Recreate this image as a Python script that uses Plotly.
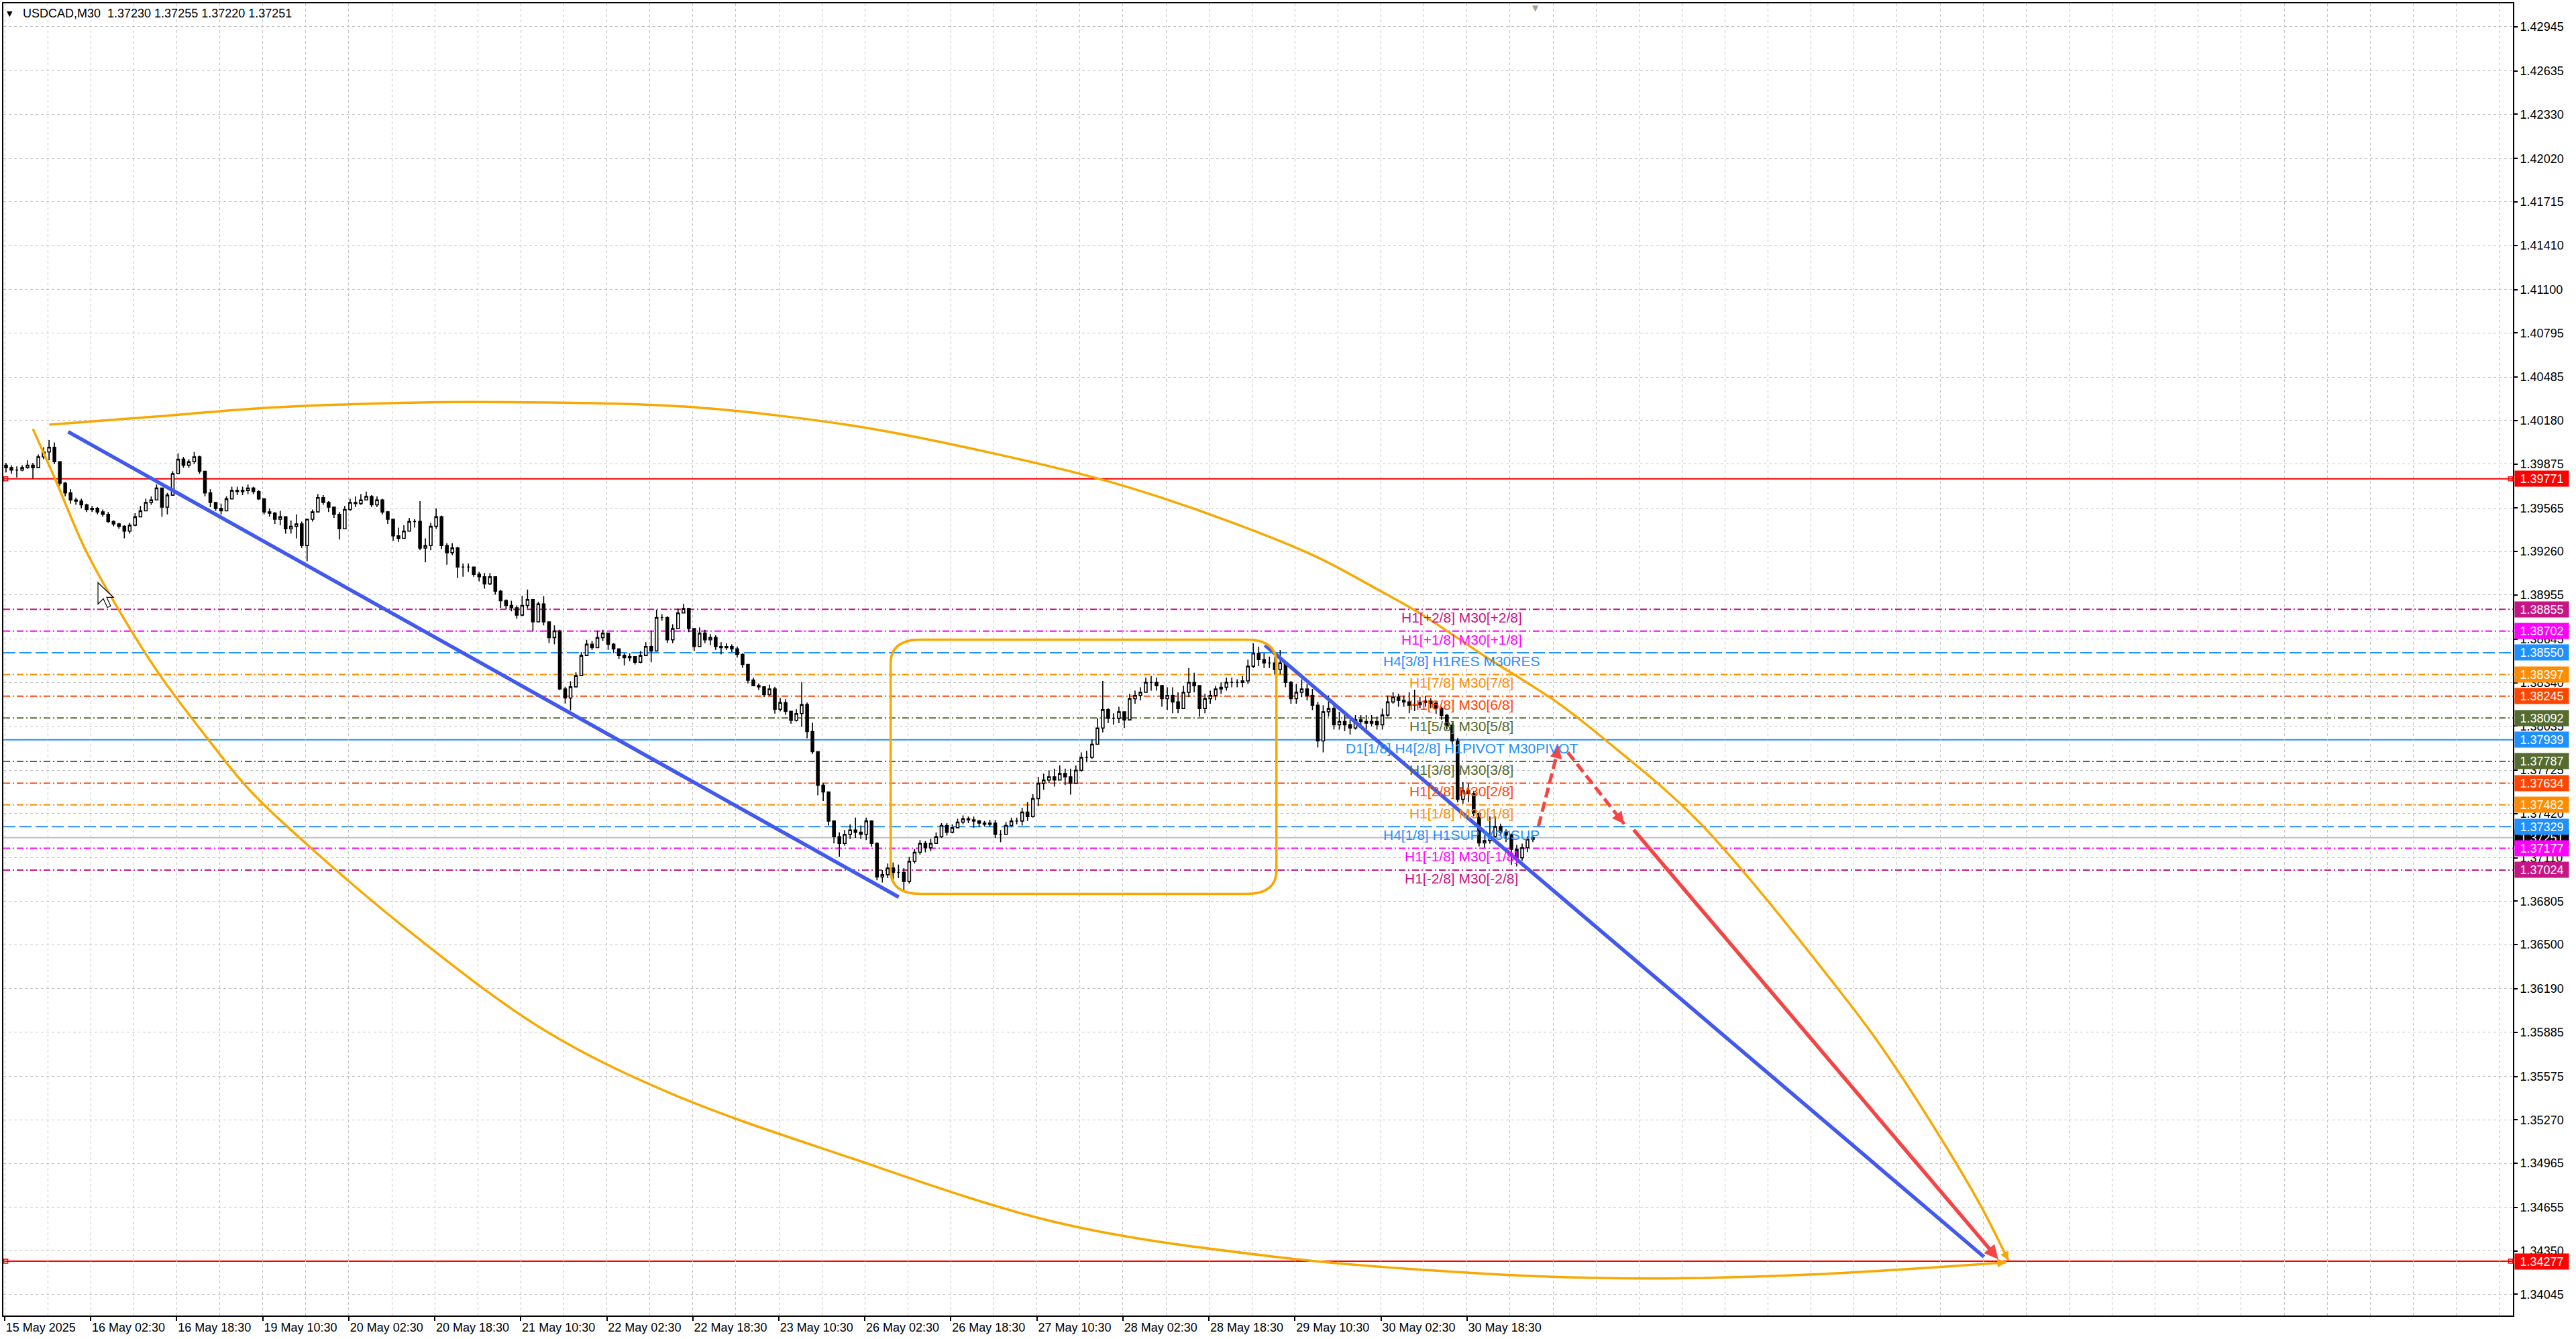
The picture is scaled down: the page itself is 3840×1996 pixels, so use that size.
import math
import plotly.graph_objects as go

W, H = 3840, 1996
M_L, M_R, M_T, M_B = 3, 94, 5, 35
X_RANGE = [-0.5, 933.1]
Y_RANGE = [1.33896, 1.43109]

FONT = "Liberation Sans, Arial, sans-serif"
GRID_COLOR = "#c4c4c4"
ORANGE = "#f8a800"
BLUE = "#4259ee"
RED = "#f44444"

# candles: one candle per two M30 bars, price = 1.3 + v / 100000
OPEN_FIRST = 9866
CLOSES = [
    9849, 9832, 9832, 9849, 9866, 9849, 9925, 9959, 9992, 9891,
    9740, 9672, 9622, 9614, 9588, 9555, 9563, 9538, 9521, 9471,
    9454, 9437, 9403, 9445, 9504, 9546, 9605, 9622, 9706, 9572,
    9656, 9807, 9908, 9866, 9891, 9925, 9824, 9672, 9605, 9563,
    9546, 9630, 9689, 9681, 9689, 9706, 9681, 9630, 9538, 9529,
    9487, 9504, 9420, 9437, 9454, 9302, 9487, 9538, 9639, 9605,
    9572, 9521, 9420, 9555, 9605, 9597, 9622, 9647, 9588, 9622,
    9538, 9487, 9370, 9353, 9403, 9471, 9471, 9285, 9302, 9437,
    9504, 9302, 9252, 9285, 9151, 9151, 9151, 9100, 9083, 9033,
    9083, 8982, 8915, 8882, 8865, 8814, 8882, 8923, 8766, 8892,
    8766, 8656, 8703, 8295, 8232, 8310, 8389, 8530, 8609, 8585,
    8656, 8687, 8609, 8577, 8530, 8515, 8522, 8483, 8530, 8593,
    8562, 8797, 8797, 8640, 8719, 8829, 8860, 8719, 8593, 8687,
    8640, 8656, 8593, 8585, 8593, 8577, 8538, 8467, 8357, 8318,
    8310, 8255, 8295, 8153, 8200, 8138, 8075, 8122, 8185, 7996,
    7855, 7619, 7572, 7368, 7258, 7211, 7274, 7305, 7289, 7274,
    7368, 7211, 6975, 6991, 7038, 7007, 7007, 6944, 7085, 7148,
    7211, 7180, 7211, 7258, 7337, 7289, 7321, 7360, 7384, 7376,
    7368, 7353, 7345, 7353, 7274, 7274, 7337, 7368, 7368, 7431,
    7399, 7525, 7633, 7656, 7678, 7656, 7701, 7678, 7633, 7724,
    7815, 7815, 7907, 8021, 8150, 8090, 8090, 8135, 8078, 8227,
    8249, 8272, 8341, 8341, 8318, 8227, 8249, 8204, 8158, 8272,
    8341, 8318, 8158, 8227, 8249, 8295, 8307, 8341, 8341, 8341,
    8352, 8455, 8546, 8501, 8478, 8478, 8432, 8478, 8341, 8227,
    8272, 8295, 8249, 8181, 7930, 8135, 8158, 8044, 8067, 8044,
    8021, 8078, 8067, 8055, 8067, 8044, 8112, 8204, 8238, 8215,
    8204, 8181, 8185, 8200, 8210, 8195, 8160, 8110, 8040, 7930,
    7520, 7580, 7560, 7420, 7215, 7230, 7260, 7330, 7290, 7270,
    7170, 7110, 7180, 7240, 7251,
]
HIGHS = [
    9883, 9866, 9858, 9866, 9900, 9883, 9942, 9992, 10043, 10026,
    9883, 9748, 9698, 9639, 9630, 9597, 9580, 9572, 9555, 9538,
    9479, 9462, 9445, 9462, 9529, 9580, 9630, 9647, 9731, 9706,
    9672, 9824, 9950, 9925, 9908, 9959, 9933, 9824, 9698, 9588,
    9597, 9647, 9715, 9715, 9715, 9731, 9715, 9689, 9630, 9563,
    9538, 9546, 9496, 9479, 9521, 9471, 9487, 9555, 9664, 9656,
    9614, 9546, 9538, 9580, 9630, 9647, 9664, 9681, 9656, 9647,
    9630, 9546, 9487, 9428, 9445, 9496, 9487, 9614, 9353, 9462,
    9563, 9513, 9319, 9319, 9294, 9176, 9176, 9151, 9117, 9109,
    9109, 9083, 8991, 8924, 8915, 8882, 8949, 8994, 8923, 8907,
    8946, 8766, 8742, 8711, 8310, 8350, 8412, 8554, 8640, 8632,
    8703, 8711, 8664, 8617, 8570, 8546, 8546, 8522, 8562, 8624,
    8703, 8852, 8821, 8805, 8750, 8860, 8892, 8829, 8719, 8727,
    8711, 8680, 8672, 8624, 8617, 8609, 8593, 8546, 8436, 8373,
    8334, 8310, 8326, 8310, 8232, 8224, 8138, 8153, 8342, 8200,
    8059, 7855, 7635, 7541, 7353, 7289, 7305, 7345, 7392, 7337,
    7392, 7274, 7219, 7023, 7070, 7077, 7062, 7038, 7117, 7172,
    7234, 7227, 7242, 7289, 7353, 7353, 7345, 7384, 7407, 7399,
    7399, 7376, 7368, 7376, 7376, 7305, 7360, 7392, 7392, 7462,
    7502, 7557, 7678, 7701, 7724, 7736, 7758, 7736, 7736, 7758,
    7850, 7861, 7941, 8090, 8352, 8160, 8124, 8170, 8135, 8261,
    8284, 8307, 8375, 8386, 8375, 8318, 8307, 8307, 8272, 8318,
    8443, 8409, 8295, 8261, 8284, 8318, 8341, 8375, 8375, 8364,
    8386, 8501, 8615, 8592, 8546, 8523, 8523, 8569, 8478, 8352,
    8330, 8364, 8330, 8295, 8204, 8181, 8249, 8181, 8135, 8112,
    8078, 8112, 8112, 8112, 8112, 8101, 8158, 8249, 8272, 8261,
    8249, 8272, 8290, 8240, 8245, 8230, 8210, 8170, 8120, 8060,
    7950, 7640, 7630, 7580, 7430, 7270, 7400, 7400, 7350, 7310,
    7280, 7200, 7210, 7260, 7260,
]
LOWS = [
    9816, 9807, 9780, 9824, 9841, 9773, 9874, 9908, 9900, 9874,
    9723, 9647, 9597, 9588, 9563, 9538, 9538, 9521, 9504, 9462,
    9437, 9420, 9353, 9386, 9437, 9521, 9555, 9588, 9639, 9504,
    9521, 9656, 9807, 9849, 9849, 9874, 9807, 9647, 9572, 9546,
    9521, 9563, 9630, 9656, 9656, 9664, 9664, 9622, 9521, 9504,
    9454, 9445, 9386, 9386, 9353, 9285, 9193, 9471, 9538, 9588,
    9538, 9496, 9344, 9420, 9546, 9572, 9588, 9622, 9572, 9572,
    9521, 9454, 9336, 9328, 9353, 9420, 9428, 9269, 9184, 9269,
    9420, 9277, 9168, 9235, 9075, 9083, 9117, 9083, 9050, 8999,
    9025, 8957, 8865, 8857, 8840, 8789, 8806, 8860, 8703, 8766,
    8742, 8617, 8609, 8287, 8193, 8145, 8334, 8397, 8562, 8570,
    8593, 8632, 8570, 8546, 8507, 8460, 8491, 8467, 8475, 8538,
    8483, 8742, 8774, 8617, 8617, 8727, 8837, 8695, 8562, 8617,
    8617, 8601, 8570, 8538, 8570, 8554, 8515, 8444, 8334, 8318,
    8287, 8240, 8248, 8122, 8138, 8114, 8051, 8067, 8028, 7949,
    7839, 7549, 7509, 7337, 7211, 7117, 7196, 7242, 7250, 7242,
    7234, 7188, 6952, 6936, 6967, 6944, 6967, 6881, 6928, 7070,
    7132, 7148, 7156, 7211, 7250, 7266, 7281, 7329, 7345, 7353,
    7321, 7329, 7329, 7329, 7250, 7219, 7274, 7329, 7345, 7337,
    7368, 7392, 7473, 7587, 7633, 7610, 7656, 7621, 7553, 7644,
    7713, 7781, 7804, 7918, 7990, 8055, 8044, 8055, 8021, 8090,
    8192, 8215, 8284, 8284, 8284, 8170, 8147, 8124, 8124, 8192,
    8238, 8272, 8101, 8124, 8192, 8215, 8261, 8284, 8307, 8307,
    8307, 8330, 8443, 8455, 8443, 8443, 8398, 8398, 8307, 8192,
    8192, 8238, 8215, 8147, 7884, 7850, 8101, 8010, 8010, 7998,
    7975, 8010, 8033, 8010, 8033, 8010, 8010, 8101, 8192, 8170,
    8170, 8124, 8140, 8160, 8170, 8160, 8120, 8080, 8010, 7890,
    7500, 7490, 7500, 7400, 7190, 7180, 7210, 7250, 7260, 7220,
    7060, 7050, 7090, 7150, 7220,
]

X_TICK_BARS = [0, 32, 64, 96, 128, 160, 192, 224, 256, 288,
               320, 352, 384, 416, 448, 480, 512, 544]
X_TICK_TEXT = ["15 May 2025", "16 May 02:30", "16 May 18:30", "19 May 10:30",
               "20 May 02:30", "20 May 18:30", "21 May 10:30", "22 May 02:30",
               "22 May 18:30", "23 May 10:30", "26 May 02:30", "26 May 18:30",
               "27 May 10:30", "28 May 02:30", "28 May 18:30", "29 May 10:30",
               "30 May 02:30", "30 May 18:30"]
Y_TICKS = [1.42945, 1.42635, 1.42330, 1.42020, 1.41715, 1.41410, 1.41100,
           1.40795, 1.40485, 1.40180, 1.39875, 1.39565, 1.39260, 1.38955,
           1.38645, 1.38340, 1.38035, 1.37725, 1.37420, 1.37110, 1.36805,
           1.36500, 1.36190, 1.35885, 1.35575, 1.35270, 1.34965, 1.34655,
           1.34350, 1.34045]

# murrey-style levels
LEVEL_PRICES = [1.38855, 1.38702, 1.38550, 1.38397, 1.38245, 1.38092, 1.37939,
                1.37787, 1.37634, 1.37482, 1.37329, 1.37177, 1.37024]
LEVEL_COLORS = ["#c71585", "#ff00ff", "#1e90ff", "#ff8c00", "#ff4500", "#556b2f", "#1e90ff",
                "#556b2f", "#ff4500", "#ff8c00", "#1e90ff", "#ff00ff", "#c71585"]
LEVEL_STYLES = ["dd", "dd", "long", "dd", "dd", "dd", "solid",
                "dd", "dd", "dd", "long", "dd", "dd"]
LEVEL_LABELS = ["H1[+2/8] M30[+2/8]", "H1[+1/8] M30[+1/8]", "H4[3/8] H1RES M30RES",
                "H1[7/8] M30[7/8]", "H1[6/8] M30[6/8]", "H1[5/8] M30[5/8]",
                "D1[1/8] H4[2/8] H1PIVOT M30PIVOT", "H1[3/8] M30[3/8]", "H1[2/8] M30[2/8]",
                "H1[1/8] M30[1/8]", "H4[1/8] H1SUP M30SUP", "H1[-1/8] M30[-1/8]",
                "H1[-2/8] M30[-2/8]"]
LABEL_BAR = 542
RED_LEVELS = [1.39771, 1.34277]
BID = 1.37251
TITLE = "USDCAD,M30\u00a0 1.37230 1.37255 1.37220 1.37251"

# drawn objects, (bar, price) anchors
TREND1_X, TREND1_Y = [23.6, 332.6], [1.40101, 1.36834]
TREND2_X, TREND2_Y = [468.8, 736.3], [1.38603, 1.34308]
BOX_X = [329.6, 473.1]
BOX_Y = [1.36856, 1.38642]
UPPER_ARC_X = [16.6, 58.3, 95.5, 143.4, 173.4, 248.2, 288.1, 328.0, 407.6, 447.3, 487.1,
               510.9, 526.9, 550.7, 577.4, 594.7, 630.6, 687.2, 700.5, 718.9, 734.6, 745.4]
UPPER_ARC_Y = [1.40151, 1.40211, 1.40267, 1.40302, 1.40310, 1.40283, 1.40214, 1.40104,
               1.39768, 1.39528, 1.39231, 1.38992, 1.38821, 1.38524, 1.38203, 1.37949,
               1.37355, 1.36064, 1.35719, 1.35183, 1.34684, 1.34282]
LOWER_ARC_X = [10.5, 18.7, 29.9, 42.2, 57.6, 75.6, 90.6, 113.5, 153.2, 200.8, 248.2,
               312.3, 391.9, 471.5, 551.0, 610.6, 672.2, 744.6]
LOWER_ARC_Y = [1.40121, 1.39772, 1.39278, 1.38858, 1.38397, 1.37944, 1.37596, 1.37186,
               1.36554, 1.35899, 1.35452, 1.35018, 1.34547, 1.34311, 1.34189, 1.34156,
               1.34184, 1.34269]
RED_SOLID_X, RED_SOLID_Y = [605.7, 741.6], [1.37313, 1.34292]
RED_DASH1_X, RED_DASH1_Y = [570.6, 578.2], [1.37333, 1.37893]
RED_DASH2_X, RED_DASH2_Y = [581.5, 602.5], [1.37850, 1.37347]
# mouse pointer left on the chart: tip anchor, outline in screen pixels
CURSOR_TIP = (34.7, 1.39042)
CURSOR_OUTLINE = [(0, 0), (0, 32), (8, 24), (14, 37), (19, 35), (13, 22), (23, 22)]

PX_BAR = (W - M_L - M_R) / (X_RANGE[1] - X_RANGE[0])
PX_PRICE = (H - M_T - M_B) / (Y_RANGE[1] - Y_RANGE[0])

DASHES = {"dd": "10px,4px,2px,4px", "long": "18px,6px", "solid": "solid"}


def to_price(v):
    return 1.3 + v / 100000.0


closes = [to_price(v) for v in CLOSES]
opens = [to_price(OPEN_FIRST)] + closes[:-1]
highs = [max(to_price(h), o, c) for h, o, c in zip(HIGHS, opens, closes)]
lows = [min(to_price(l), o, c) for l, o, c in zip(LOWS, opens, closes)]
bars = [2 * k + 0.5 for k in range(len(closes))]

fig = go.Figure()

fig.add_trace(go.Candlestick(
    x=bars, open=opens, high=highs, low=lows, close=closes,
    increasing=dict(line=dict(color="black", width=1.6), fillcolor="white"),
    decreasing=dict(line=dict(color="black", width=1.6), fillcolor="black"),
    whiskerwidth=0, hoverinfo="skip", showlegend=False,
))

# level lines (below candles)
for price, color, style in zip(LEVEL_PRICES, LEVEL_COLORS, LEVEL_STYLES):
    fig.add_shape(type="line", xref="paper", x0=0, x1=1, yref="y", y0=price, y1=price,
                  line=dict(color=color, width=2, dash=DASHES[style]), layer="below")
fig.add_shape(type="line", xref="paper", x0=0, x1=1, yref="y", y0=BID, y1=BID,
              line=dict(color="#c0c0c0", width=2), layer="below")
for price in RED_LEVELS:
    fig.add_shape(type="line", xref="paper", x0=0, x1=1, yref="y", y0=price, y1=price,
                  line=dict(color="#ff0000", width=2), layer="below")
    fig.add_trace(go.Scatter(x=[X_RANGE[0] + 0.9, X_RANGE[1] - 0.9], y=[price, price], mode="markers",
                             marker=dict(symbol="square-open", size=6, color="#ff0000", line=dict(width=1.5)),
                             hoverinfo="skip", showlegend=False, cliponaxis=False))

# rounded rectangle
rx = 45 / PX_BAR
ry = 35 / PX_PRICE
x0, x1 = BOX_X
y0, y1 = BOX_Y
box_path = (f"M{x0 + rx},{y1} L{x1 - rx},{y1} Q{x1},{y1} {x1},{y1 - ry} "
            f"L{x1},{y0 + ry} Q{x1},{y0} {x1 - rx},{y0} L{x0 + rx},{y0} "
            f"Q{x0},{y0} {x0},{y0 + ry} L{x0},{y1 - ry} Q{x0},{y1} {x0 + rx},{y1} Z")
fig.add_shape(type="path", path=box_path, xref="x", yref="y",
              line=dict(color=ORANGE, width=3.5), layer="above")

# trend lines
for tx, ty in [(TREND1_X, TREND1_Y), (TREND2_X, TREND2_Y)]:
    fig.add_trace(go.Scatter(x=tx, y=ty, mode="lines", line=dict(color=BLUE, width=5.5),
                             hoverinfo="skip", showlegend=False))

# curved orange arrows
for ax_, ay_ in [(UPPER_ARC_X, UPPER_ARC_Y), (LOWER_ARC_X, LOWER_ARC_Y)]:
    fig.add_trace(go.Scatter(x=ax_, y=ay_, mode="lines",
                             line=dict(color=ORANGE, width=3.5, shape="spline", smoothing=1.0),
                             hoverinfo="skip", showlegend=False))

# dashed red path
for dx_, dy_ in [(RED_DASH1_X, RED_DASH1_Y), (RED_DASH2_X, RED_DASH2_Y)]:
    fig.add_trace(go.Scatter(x=dx_, y=dy_, mode="lines",
                             line=dict(color=RED, width=5, dash="15px,7px"),
                             hoverinfo="skip", showlegend=False))


def add_head(xs, ys, color, width, size):
    dx = (xs[-1] - xs[-2]) * PX_BAR
    dy = -(ys[-1] - ys[-2]) * PX_PRICE
    n = math.hypot(dx, dy)
    fig.add_annotation(x=xs[-1], y=ys[-1], xref="x", yref="y", text="",
                       ax=-dx / n * 12, ay=-dy / n * 12, axref="pixel", ayref="pixel",
                       showarrow=True, arrowhead=2, arrowwidth=width, arrowsize=size,
                       arrowcolor=color)


add_head(UPPER_ARC_X, UPPER_ARC_Y, ORANGE, 3.5, 0.75)
add_head(LOWER_ARC_X, LOWER_ARC_Y, ORANGE, 3.5, 0.75)
add_head(RED_DASH1_X, RED_DASH1_Y, RED, 4, 0.9)
add_head(RED_DASH2_X, RED_DASH2_Y, RED, 4, 0.9)

fig.add_annotation(x=RED_SOLID_X[1], y=RED_SOLID_Y[1], xref="x", yref="y", text="",
                   ax=RED_SOLID_X[0], ay=RED_SOLID_Y[0], axref="x", ayref="y",
                   showarrow=True, arrowhead=2, arrowwidth=5.5, arrowsize=0.75, arrowcolor=RED)

# mouse pointer
cx, cy = CURSOR_TIP
pts = [(cx + px / PX_BAR, cy - py / PX_PRICE) for px, py in CURSOR_OUTLINE]
cursor_path = "M" + " L".join(f"{px},{py}" for px, py in pts) + " Z"
fig.add_shape(type="path", path=cursor_path, xref="x", yref="y",
              line=dict(color="black", width=1.2), fillcolor="white", layer="above")

# level labels
for price, color, label in zip(LEVEL_PRICES, LEVEL_COLORS, LEVEL_LABELS):
    fig.add_annotation(x=LABEL_BAR, y=price, xref="x", yref="y", text=label, showarrow=False,
                       xanchor="center", yanchor="top", yshift=1,
                       font=dict(family=FONT, size=21, color=color))

# price boxes on the right axis
box_prices = [BID] + RED_LEVELS + LEVEL_PRICES
box_colors = ["#000000", "#ff0000", "#ff0000"] + LEVEL_COLORS
for price, color in zip(box_prices, box_colors):
    fig.add_annotation(x=1, y=price, xref="paper", yref="y", text=f"{price:.5f}", showarrow=False,
                       xanchor="left", yanchor="middle", xshift=2, width=80, height=23,
                       borderpad=0, bgcolor=color, align="center",
                       font=dict(family=FONT, size=18, color="white"))

# title
fig.add_annotation(x=0, y=1, xref="paper", yref="paper", text="\u25bc", showarrow=False,
                   xanchor="center", yanchor="middle", xshift=9, yshift=-15,
                   font=dict(family="DejaVu Sans", size=11, color="black"))
fig.add_annotation(x=0, y=1, xref="paper", yref="paper", text=TITLE, showarrow=False,
                   xanchor="left", yanchor="middle", xshift=27, yshift=-15,
                   font=dict(family=FONT, size=18, color="black"))
# chart shift marker
fig.add_annotation(x=569.5, y=1, xref="x", yref="paper", text="\u25bc", showarrow=False,
                   xanchor="center", yanchor="top", yshift=2,
                   font=dict(family="DejaVu Sans", size=12, color="#a0a0a0"))

fig.update_layout(
    width=W, height=H,
    margin=dict(l=M_L, r=M_R, t=M_T, b=M_B),
    plot_bgcolor="white", paper_bgcolor="white",
    showlegend=False, hovermode=False,
    font=dict(family=FONT, size=18, color="black"),
    xaxis=dict(
        range=X_RANGE, rangeslider=dict(visible=False),
        tickmode="array", tickvals=X_TICK_BARS, ticktext=X_TICK_TEXT,
        ticklabelposition="outside right", ticks="outside", ticklen=6, tickwidth=1.5,
        tickcolor="black", tickfont=dict(family=FONT, size=18, color="black"),
        showgrid=True, gridcolor=GRID_COLOR, gridwidth=1.3, griddash="4px,4px",
        minor=dict(tickmode="linear", tick0=0, dtick=16, showgrid=True, gridcolor=GRID_COLOR,
                   gridwidth=1.3, griddash="4px,4px", ticklen=0),
        showline=True, linecolor="black", linewidth=2, mirror=True, zeroline=False,
    ),
    yaxis=dict(
        range=Y_RANGE, side="right",
        tickmode="array", tickvals=Y_TICKS, ticktext=[f"{v:.5f}" for v in Y_TICKS],
        ticks="outside", ticklen=5, tickwidth=1.5, tickcolor="black",
        tickfont=dict(family=FONT, size=18, color="black"),
        showgrid=True, gridcolor=GRID_COLOR, gridwidth=1.3, griddash="4px,4px",
        showline=True, linecolor="black", linewidth=2, mirror=True, zeroline=False,
    ),
)

fig.write_html("out.html", config={"displayModeBar": False},
               post_script="document.body.style.margin='0';document.body.style.overflow='hidden';")
